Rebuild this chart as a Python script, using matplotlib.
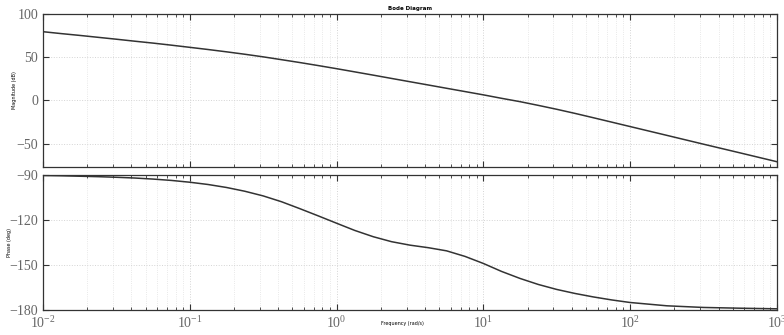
import matplotlib
matplotlib.use("Agg")
import matplotlib.pyplot as plt
from matplotlib.ticker import LogLocator, NullFormatter

plt.rcParams['font.family'] = ['Liberation Serif', 'DejaVu Serif']
plt.rcParams['mathtext.fontset'] = 'stix'

freq = [0.01, 0.0133, 0.0178, 0.0237, 0.0316, 0.0422, 0.0562, 0.075,
        0.1, 0.133, 0.178, 0.237, 0.316, 0.422, 0.562, 0.75,
        1.0, 1.33, 1.78, 2.37, 3.16, 4.22, 5.62, 7.5,
        10.0, 13.3, 17.8, 23.7, 31.6, 42.2, 56.2, 75.0,
        100.0, 178.0, 316.0, 562.0, 1000.0]

# magnitude (dB)
mag_db = [79.6, 77.4, 75.3, 73.1, 70.9, 68.6, 66.4, 64.0,
          61.5, 59.0, 56.3, 53.5, 50.5, 47.2, 43.9, 40.4,
          36.8, 33.1, 29.3, 25.5, 21.7, 17.9, 14.1, 10.3,
          6.5, 2.5, -1.4, -5.7, -10.2, -15.0, -20.0, -25.1,
          -30.2, -40.4, -50.6, -60.7, -70.9]

# phase (deg)
ph_deg = [-90.4, -90.6, -90.9, -91.2, -91.6, -92.1, -92.8, -93.7,
          -94.9, -96.4, -98.4, -100.9, -104.0, -107.9, -112.5, -117.3,
          -122.2, -127.0, -131.2, -134.5, -136.8, -138.5, -140.6, -144.3,
          -149.0, -154.3, -159.0, -163.0, -166.3, -169.0, -171.3, -173.3,
          -175.0, -177.2, -178.3, -178.8, -179.2]

mag_ticks = [-50, 0, 50, 100]
ph_ticks = [-180, -150, -120, -90]

fig = plt.figure(figsize=(7.84, 3.35), dpi=100)
ax1 = fig.add_axes([0.0548, 0.5015, 0.9362, 0.4565])
ax2 = fig.add_axes([0.0548, 0.0746, 0.9362, 0.4034])

tick_col = '#666666'
for ax in (ax1, ax2):
    ax.set_xscale('log')
    ax.set_xlim(0.01, 1000)
    ax.xaxis.set_major_locator(LogLocator(base=10, numticks=10))
    ax.xaxis.set_minor_locator(LogLocator(base=10, subs=range(2, 10), numticks=20))
    ax.xaxis.set_minor_formatter(NullFormatter())
    ax.grid(True, which='major', color='#d4d4d4', linestyle=':', linewidth=0.7)
    ax.grid(True, which='minor', axis='x', color='#e2e2e2', linestyle=':', linewidth=0.6)
    ax.tick_params(which='both', direction='in', top=True, right=True,
                   colors='#333333', labelcolor=tick_col, labelsize=10)
    ax.tick_params(which='major', length=4, width=0.8)
    ax.tick_params(which='minor', length=2.5, width=0.6)
    for s in ax.spines.values():
        s.set_color('#333333')
        s.set_linewidth(0.9)

ax1.plot(freq, mag_db, color='#333333', linewidth=1.1)
ax1.set_ylim(-77, 100)
ax1.set_yticks(mag_ticks)
ax1.tick_params(labelbottom=False)
ax1.set_ylabel('Magnitude (dB)', fontsize=3.5, family='DejaVu Sans')
ax1.yaxis.set_label_coords(-0.035, 0.5)
ax1.set_title('Bode Diagram', fontsize=4, family='DejaVu Sans', fontweight='bold', pad=3)

ax2.plot(freq, ph_deg, color='#333333', linewidth=1.1)
ax2.set_ylim(-180, -90)
ax2.set_yticks(ph_ticks)
ax2.set_ylabel('Phase (deg)', fontsize=3.5, family='DejaVu Sans')
ax2.yaxis.set_label_coords(-0.042, 0.5)
ax2.set_xlabel('Frequency (rad/s)', fontsize=3.5, family='DejaVu Sans')
ax2.xaxis.set_label_coords(0.49, -0.085)

fig.savefig('out.png', dpi=100)
plt.close(fig)
